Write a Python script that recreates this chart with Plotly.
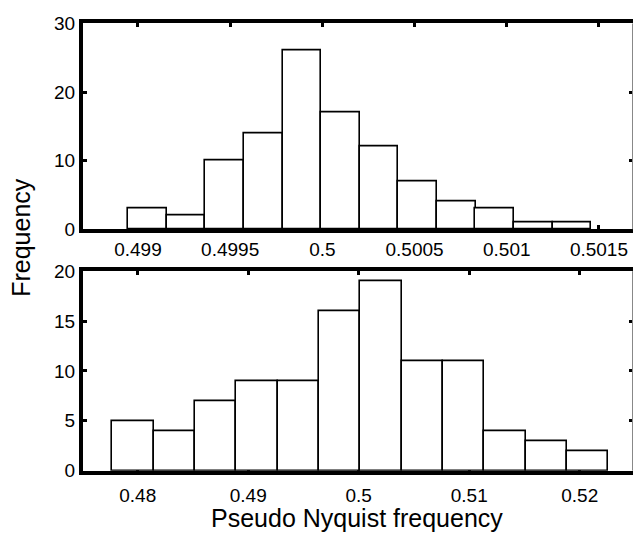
import plotly.graph_objects as go

# ---- data ----
top_centers = [0.499052, 0.499261, 0.499470, 0.499680, 0.499889, 0.500098,
               0.500307, 0.500517, 0.500726, 0.500935, 0.501145, 0.501354]
top_counts = [3, 2, 10, 14, 26, 17, 12, 7, 4, 3, 1, 1]
top_bin_width = 0.0002093

bot_centers = [0.479571, 0.483311, 0.487051, 0.490791, 0.494531, 0.498271,
               0.502011, 0.505751, 0.509491, 0.513231, 0.516971, 0.520711]
bot_counts = [5, 4, 7, 9, 9, 16, 19, 11, 11, 4, 3, 2]
bot_bin_width = 0.00374

top_xticks = [0.499, 0.4995, 0.5, 0.5005, 0.501, 0.5015]
top_xticklabels = ["0.499", "0.4995", "0.5", "0.5005", "0.501", "0.5015"]
top_yticks = [0, 10, 20, 30]
bot_xticks = [0.48, 0.49, 0.5, 0.51, 0.52]
bot_xticklabels = ["0.48", "0.49", "0.5", "0.51", "0.52"]
bot_yticks = [0, 5, 10, 15, 20]

x_title = "Pseudo Nyquist frequency"
y_title = "Frequency"

# ---- layout geometry ----
W, H = 634, 540
xdom = [83 / W, 632.5 / W]
top_dom = [(H - 228) / H, (H - 14) / H]
bot_dom = [(H - 479.3) / H, (H - 271.7) / H]

FONT = "Liberation Sans, Arial, Helvetica, sans-serif"

fig = go.Figure()
fig.add_trace(go.Bar(x=top_centers, y=top_counts, width=[top_bin_width] * len(top_counts),
                     marker=dict(color="white", line=dict(color="black", width=1.6)),
                     xaxis="x", yaxis="y", showlegend=False, hoverinfo="skip"))
fig.add_trace(go.Bar(x=bot_centers, y=bot_counts, width=[bot_bin_width] * len(bot_counts),
                     marker=dict(color="white", line=dict(color="black", width=1.6)),
                     xaxis="x2", yaxis="y2", showlegend=False, hoverinfo="skip"))
# dummy traces for right-side tick axes
fig.add_trace(go.Scatter(x=[], y=[], xaxis="x", yaxis="y3", showlegend=False))
fig.add_trace(go.Scatter(x=[], y=[], xaxis="x2", yaxis="y4", showlegend=False))

tickfont = dict(family=FONT, size=19, color="black")

common_x = dict(showgrid=False, zeroline=False, showline=True, linecolor="black", linewidth=4,
                mirror="ticks", ticks="inside", ticklen=4, tickwidth=3, tickcolor="black",
                tickfont=tickfont, layer="below traces", domain=xdom, fixedrange=True)
common_y = dict(showgrid=False, zeroline=False, showline=True, linecolor="black", linewidth=4,
                mirror=False, ticks="inside", ticklen=4, tickwidth=3, tickcolor="black",
                tickfont=tickfont, layer="below traces", fixedrange=True)
right_y = dict(showgrid=False, zeroline=False, showline=False, ticks="inside", ticklen=4,
               tickwidth=3, tickcolor="black", showticklabels=False, side="right",
               fixedrange=True)

fig.update_layout(
    width=W, height=H,
    margin=dict(l=0, r=0, t=0, b=0),
    paper_bgcolor="white", plot_bgcolor="white",
    bargap=0,
    font=dict(family=FONT, color="black"),
    xaxis=dict(**common_x, anchor="y", range=[0.498702, 0.501682],
               tickvals=top_xticks, ticktext=top_xticklabels),
    yaxis=dict(**common_y, anchor="x", domain=top_dom, range=[0, 30], tickvals=top_yticks),
    yaxis3=dict(**right_y, overlaying="y", anchor="x", range=[0, 30], tickvals=top_yticks),
    xaxis2=dict(**common_x, anchor="y2", range=[0.475050, 0.524778],
                tickvals=bot_xticks, ticktext=bot_xticklabels, ticklabelstandoff=5),
    yaxis2=dict(**common_y, anchor="x2", domain=bot_dom, range=[0, 20], tickvals=bot_yticks),
    yaxis4=dict(**right_y, overlaying="y2", anchor="x2", range=[0, 20], tickvals=bot_yticks),
    shapes=[
        dict(type="line", xref="x domain", yref="y domain", x0=1, x1=1, y0=0, y1=1,
             line=dict(color="#888888", width=1)),
        dict(type="line", xref="x2 domain", yref="y2 domain", x0=1, x1=1, y0=0, y1=1,
             line=dict(color="#888888", width=1)),
    ],
    annotations=[
        dict(text=y_title, xref="paper", yref="paper", x=21 / W, y=(H - 237) / H,
             textangle=-90, showarrow=False, font=dict(family=FONT, size=25, color="black"),
             xanchor="center", yanchor="middle"),
        dict(text=x_title, xref="paper", yref="paper", x=357 / W, y=(H - 529) / H,
             showarrow=False, font=dict(family=FONT, size=25, color="black"),
             xanchor="center", yanchor="middle"),
    ],
)

fig.write_html("out.html")
